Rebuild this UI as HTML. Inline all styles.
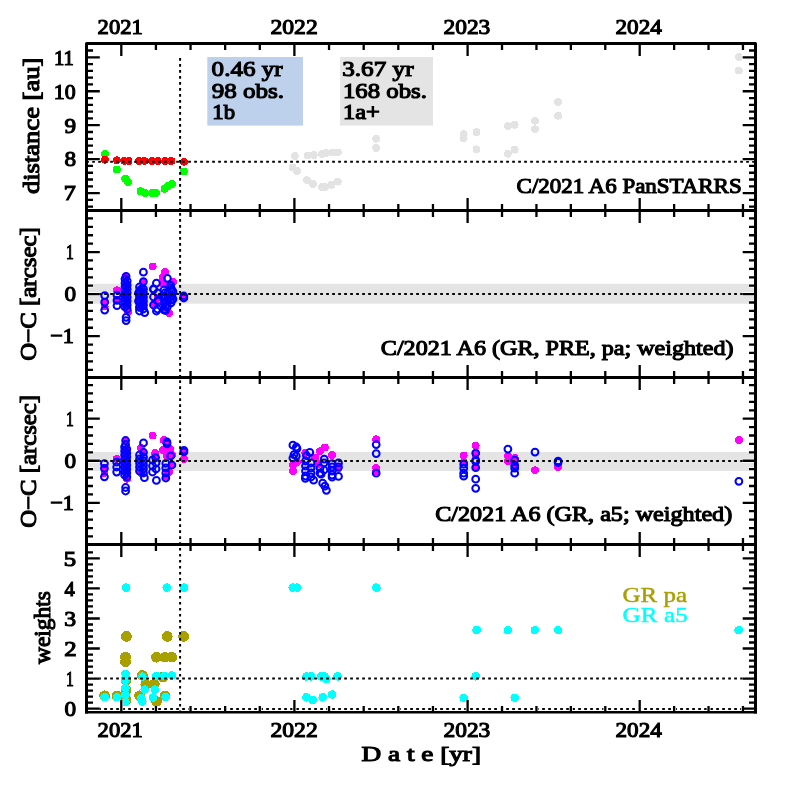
<!DOCTYPE html><html><head><meta charset="utf-8"><style>html,body{margin:0;padding:0;background:#fff;width:797px;height:797px;overflow:hidden}svg{display:block;will-change:transform}text{font-family:"Liberation Serif",serif;font-weight:normal;fill:#000;stroke:#000;stroke-width:1.15px}</style></head><body>
<svg width="797" height="797" viewBox="0 0 797 797">
<rect x="207.3" y="57" width="95.7" height="68.6" fill="#bdd1ed"/>
<rect x="340.1" y="57" width="92.9" height="68.6" fill="#e4e4e4"/>
<rect x="88" y="283.8" width="666" height="19.9" fill="#e4e4e4"/>
<rect x="88" y="452.0" width="666" height="18.9" fill="#e4e4e4"/>
<g shape-rendering="crispEdges"><circle cx="294.8" cy="156.1" r="3.9" fill="#e3e3e3"/><circle cx="307.6" cy="155.4" r="3.9" fill="#e3e3e3"/><circle cx="313.7" cy="155" r="3.9" fill="#e3e3e3"/><circle cx="322" cy="153.9" r="3.9" fill="#e3e3e3"/><circle cx="325.7" cy="153" r="3.9" fill="#e3e3e3"/><circle cx="332.5" cy="152.5" r="3.9" fill="#e3e3e3"/><circle cx="337.8" cy="152.4" r="3.9" fill="#e3e3e3"/><circle cx="292.6" cy="167.4" r="3.9" fill="#e3e3e3"/><circle cx="297.1" cy="171.2" r="3.9" fill="#e3e3e3"/><circle cx="306.9" cy="180.2" r="3.9" fill="#e3e3e3"/><circle cx="312.9" cy="184" r="3.9" fill="#e3e3e3"/><circle cx="322" cy="187" r="3.9" fill="#e3e3e3"/><circle cx="325" cy="187" r="3.9" fill="#e3e3e3"/><circle cx="331.7" cy="184.8" r="3.9" fill="#e3e3e3"/><circle cx="337.8" cy="181.7" r="3.9" fill="#e3e3e3"/><circle cx="376.2" cy="138.8" r="3.9" fill="#e3e3e3"/><circle cx="376.2" cy="147.9" r="3.9" fill="#e3e3e3"/><circle cx="463.7" cy="134.2" r="3.9" fill="#e3e3e3"/><circle cx="463.7" cy="138.2" r="3.9" fill="#e3e3e3"/><circle cx="476.5" cy="132.2" r="3.9" fill="#e3e3e3"/><circle cx="476.5" cy="149.3" r="3.9" fill="#e3e3e3"/><circle cx="507.9" cy="126.2" r="3.9" fill="#e3e3e3"/><circle cx="514.7" cy="124.8" r="3.9" fill="#e3e3e3"/><circle cx="507.9" cy="153.7" r="3.9" fill="#e3e3e3"/><circle cx="514.7" cy="149.7" r="3.9" fill="#e3e3e3"/><circle cx="535" cy="120.7" r="3.9" fill="#e3e3e3"/><circle cx="535" cy="129.2" r="3.9" fill="#e3e3e3"/><circle cx="558.1" cy="102.1" r="3.9" fill="#e3e3e3"/><circle cx="558.1" cy="115.7" r="3.9" fill="#e3e3e3"/><circle cx="738.8" cy="57" r="3.9" fill="#e3e3e3"/><circle cx="738.8" cy="70.6" r="3.9" fill="#e3e3e3"/></g><g shape-rendering="crispEdges"><circle cx="104.9" cy="153.8" r="3.9" fill="#00ff00"/><circle cx="116.9" cy="169.4" r="3.9" fill="#00ff00"/><circle cx="125.2" cy="178.6" r="3.9" fill="#00ff00"/><circle cx="128" cy="182.1" r="3.9" fill="#00ff00"/><circle cx="140.4" cy="191.1" r="3.9" fill="#00ff00"/><circle cx="145.2" cy="193.1" r="3.9" fill="#00ff00"/><circle cx="152.1" cy="193.1" r="3.9" fill="#00ff00"/><circle cx="156.3" cy="193" r="3.9" fill="#00ff00"/><circle cx="164.5" cy="189" r="3.9" fill="#00ff00"/><circle cx="168" cy="186" r="3.9" fill="#00ff00"/><circle cx="172.1" cy="183.9" r="3.9" fill="#00ff00"/><circle cx="183.9" cy="171.5" r="3.9" fill="#00ff00"/></g><g shape-rendering="crispEdges"><circle cx="104.9" cy="159.7" r="3.9" fill="#ff0000"/><circle cx="116.9" cy="160.3" r="3.9" fill="#ff0000"/><circle cx="124.5" cy="161" r="3.9" fill="#ff0000"/><circle cx="128.6" cy="161" r="3.9" fill="#ff0000"/><circle cx="139" cy="161" r="3.9" fill="#ff0000"/><circle cx="144.5" cy="161" r="3.9" fill="#ff0000"/><circle cx="152.1" cy="161" r="3.9" fill="#ff0000"/><circle cx="157.6" cy="161" r="3.9" fill="#ff0000"/><circle cx="165.2" cy="161" r="3.9" fill="#ff0000"/><circle cx="171.4" cy="161" r="3.9" fill="#ff0000"/><circle cx="183.9" cy="161.8" r="3.9" fill="#ff0000"/></g><g shape-rendering="crispEdges"><circle cx="104.7" cy="302.2" r="3.9" fill="#ff00ff"/><circle cx="104.7" cy="306.5" r="3.9" fill="#ff00ff"/><circle cx="117" cy="290.2" r="3.9" fill="#ff00ff"/><circle cx="117" cy="300" r="3.9" fill="#ff00ff"/><circle cx="126.1" cy="276.3" r="3.9" fill="#ff00ff"/><circle cx="126.1" cy="285" r="3.9" fill="#ff00ff"/><circle cx="126.1" cy="290" r="3.9" fill="#ff00ff"/><circle cx="126.1" cy="295" r="3.9" fill="#ff00ff"/><circle cx="126.1" cy="300" r="3.9" fill="#ff00ff"/><circle cx="126.1" cy="305" r="3.9" fill="#ff00ff"/><circle cx="128" cy="311.8" r="3.9" fill="#ff00ff"/><circle cx="143.4" cy="281.6" r="3.9" fill="#ff00ff"/><circle cx="139" cy="307.7" r="3.9" fill="#ff00ff"/><circle cx="139" cy="297" r="3.9" fill="#ff00ff"/><circle cx="143" cy="292" r="3.9" fill="#ff00ff"/><circle cx="143" cy="302" r="3.9" fill="#ff00ff"/><circle cx="152.7" cy="266.5" r="3.9" fill="#ff00ff"/><circle cx="157.5" cy="297.9" r="3.9" fill="#ff00ff"/><circle cx="155" cy="304.4" r="3.9" fill="#ff00ff"/><circle cx="165" cy="271.8" r="3.9" fill="#ff00ff"/><circle cx="162.5" cy="277.5" r="3.9" fill="#ff00ff"/><circle cx="163.3" cy="284.4" r="3.9" fill="#ff00ff"/><circle cx="170.7" cy="285.3" r="3.9" fill="#ff00ff"/><circle cx="173.1" cy="282" r="3.9" fill="#ff00ff"/><circle cx="169" cy="313" r="3.9" fill="#ff00ff"/><circle cx="165.4" cy="310.5" r="3.9" fill="#ff00ff"/><circle cx="166" cy="300" r="3.9" fill="#ff00ff"/><circle cx="171" cy="296" r="3.9" fill="#ff00ff"/><circle cx="183.8" cy="297.1" r="3.9" fill="#ff00ff"/></g><circle cx="104.7" cy="295.6" r="3.4" fill="none" stroke="#0000ff" stroke-width="2.0"/><circle cx="104.7" cy="302.2" r="3.4" fill="none" stroke="#0000ff" stroke-width="2.0"/><circle cx="104.7" cy="310.1" r="3.4" fill="none" stroke="#0000ff" stroke-width="2.0"/><circle cx="117" cy="295.1" r="3.4" fill="none" stroke="#0000ff" stroke-width="2.0"/><circle cx="117" cy="300.4" r="3.4" fill="none" stroke="#0000ff" stroke-width="2.0"/><circle cx="117" cy="305.7" r="3.4" fill="none" stroke="#0000ff" stroke-width="2.0"/><circle cx="126.1" cy="276.3" r="3.4" fill="none" stroke="#0000ff" stroke-width="2.0"/><circle cx="126.1" cy="317.3" r="3.4" fill="none" stroke="#0000ff" stroke-width="2.0"/><circle cx="126.1" cy="320.6" r="3.4" fill="none" stroke="#0000ff" stroke-width="2.0"/><circle cx="143.4" cy="272.2" r="3.4" fill="none" stroke="#0000ff" stroke-width="2.0"/><circle cx="143.4" cy="281.6" r="3.4" fill="none" stroke="#0000ff" stroke-width="2.0"/><circle cx="144.7" cy="312.6" r="3.4" fill="none" stroke="#0000ff" stroke-width="2.0"/><circle cx="156.4" cy="283.2" r="3.4" fill="none" stroke="#0000ff" stroke-width="2.0"/><circle cx="156.4" cy="311" r="3.4" fill="none" stroke="#0000ff" stroke-width="2.0"/><circle cx="153.6" cy="289.3" r="3.4" fill="none" stroke="#0000ff" stroke-width="2.0"/><circle cx="167.4" cy="278.3" r="3.4" fill="none" stroke="#0000ff" stroke-width="2.0"/><circle cx="170.7" cy="285.3" r="3.4" fill="none" stroke="#0000ff" stroke-width="2.0"/><circle cx="165.4" cy="292.6" r="3.4" fill="none" stroke="#0000ff" stroke-width="2.0"/><circle cx="165.4" cy="297" r="3.4" fill="none" stroke="#0000ff" stroke-width="2.0"/><circle cx="165.4" cy="302" r="3.4" fill="none" stroke="#0000ff" stroke-width="2.0"/><circle cx="165.4" cy="306.5" r="3.4" fill="none" stroke="#0000ff" stroke-width="2.0"/><circle cx="165.4" cy="310.5" r="3.4" fill="none" stroke="#0000ff" stroke-width="2.0"/><circle cx="171.9" cy="290" r="3.4" fill="none" stroke="#0000ff" stroke-width="2.0"/><circle cx="171.9" cy="295.9" r="3.4" fill="none" stroke="#0000ff" stroke-width="2.0"/><circle cx="171.9" cy="300" r="3.4" fill="none" stroke="#0000ff" stroke-width="2.0"/><circle cx="183.8" cy="296" r="3.4" fill="none" stroke="#0000ff" stroke-width="2.0"/><circle cx="183.8" cy="298" r="3.4" fill="none" stroke="#0000ff" stroke-width="2.0"/><circle cx="125.0" cy="279.0" r="3.4" fill="none" stroke="#0000ff" stroke-width="2.0"/><circle cx="127.2" cy="281.0" r="3.4" fill="none" stroke="#0000ff" stroke-width="2.0"/><circle cx="125.0" cy="283.0" r="3.4" fill="none" stroke="#0000ff" stroke-width="2.0"/><circle cx="127.2" cy="285.0" r="3.4" fill="none" stroke="#0000ff" stroke-width="2.0"/><circle cx="125.0" cy="287.0" r="3.4" fill="none" stroke="#0000ff" stroke-width="2.0"/><circle cx="127.2" cy="289.0" r="3.4" fill="none" stroke="#0000ff" stroke-width="2.0"/><circle cx="125.0" cy="291.0" r="3.4" fill="none" stroke="#0000ff" stroke-width="2.0"/><circle cx="127.2" cy="293.0" r="3.4" fill="none" stroke="#0000ff" stroke-width="2.0"/><circle cx="125.0" cy="295.0" r="3.4" fill="none" stroke="#0000ff" stroke-width="2.0"/><circle cx="127.2" cy="297.0" r="3.4" fill="none" stroke="#0000ff" stroke-width="2.0"/><circle cx="125.0" cy="299.0" r="3.4" fill="none" stroke="#0000ff" stroke-width="2.0"/><circle cx="127.2" cy="301.0" r="3.4" fill="none" stroke="#0000ff" stroke-width="2.0"/><circle cx="125.0" cy="303.0" r="3.4" fill="none" stroke="#0000ff" stroke-width="2.0"/><circle cx="127.2" cy="305.0" r="3.4" fill="none" stroke="#0000ff" stroke-width="2.0"/><circle cx="125.0" cy="307.0" r="3.4" fill="none" stroke="#0000ff" stroke-width="2.0"/><circle cx="127.2" cy="309.0" r="3.4" fill="none" stroke="#0000ff" stroke-width="2.0"/><circle cx="139.5" cy="287.0" r="3.4" fill="none" stroke="#0000ff" stroke-width="2.0"/><circle cx="143.5" cy="289.0" r="3.4" fill="none" stroke="#0000ff" stroke-width="2.0"/><circle cx="139.5" cy="291.0" r="3.4" fill="none" stroke="#0000ff" stroke-width="2.0"/><circle cx="143.5" cy="293.0" r="3.4" fill="none" stroke="#0000ff" stroke-width="2.0"/><circle cx="139.5" cy="295.0" r="3.4" fill="none" stroke="#0000ff" stroke-width="2.0"/><circle cx="143.5" cy="297.0" r="3.4" fill="none" stroke="#0000ff" stroke-width="2.0"/><circle cx="139.5" cy="299.0" r="3.4" fill="none" stroke="#0000ff" stroke-width="2.0"/><circle cx="143.5" cy="301.0" r="3.4" fill="none" stroke="#0000ff" stroke-width="2.0"/><circle cx="139.5" cy="303.0" r="3.4" fill="none" stroke="#0000ff" stroke-width="2.0"/><circle cx="143.5" cy="305.0" r="3.4" fill="none" stroke="#0000ff" stroke-width="2.0"/><circle cx="139.5" cy="307.0" r="3.4" fill="none" stroke="#0000ff" stroke-width="2.0"/><circle cx="143.5" cy="309.0" r="3.4" fill="none" stroke="#0000ff" stroke-width="2.0"/><circle cx="139.5" cy="311.0" r="3.4" fill="none" stroke="#0000ff" stroke-width="2.0"/><circle cx="141.5" cy="289.0" r="3.4" fill="none" stroke="#0000ff" stroke-width="2.0"/><circle cx="138.5" cy="293.0" r="3.4" fill="none" stroke="#0000ff" stroke-width="2.0"/><circle cx="141.5" cy="297.0" r="3.4" fill="none" stroke="#0000ff" stroke-width="2.0"/><circle cx="138.5" cy="301.0" r="3.4" fill="none" stroke="#0000ff" stroke-width="2.0"/><circle cx="141.5" cy="305.0" r="3.4" fill="none" stroke="#0000ff" stroke-width="2.0"/><circle cx="153.5" cy="289.0" r="3.4" fill="none" stroke="#0000ff" stroke-width="2.0"/><circle cx="157.5" cy="293.0" r="3.4" fill="none" stroke="#0000ff" stroke-width="2.0"/><circle cx="153.5" cy="297.0" r="3.4" fill="none" stroke="#0000ff" stroke-width="2.0"/><circle cx="157.5" cy="301.0" r="3.4" fill="none" stroke="#0000ff" stroke-width="2.0"/><circle cx="153.5" cy="305.0" r="3.4" fill="none" stroke="#0000ff" stroke-width="2.0"/><circle cx="157.5" cy="309.0" r="3.4" fill="none" stroke="#0000ff" stroke-width="2.0"/><circle cx="164.0" cy="290.0" r="3.4" fill="none" stroke="#0000ff" stroke-width="2.0"/><circle cx="167.5" cy="293.3" r="3.4" fill="none" stroke="#0000ff" stroke-width="2.0"/><circle cx="164.0" cy="296.6" r="3.4" fill="none" stroke="#0000ff" stroke-width="2.0"/><circle cx="167.5" cy="299.9" r="3.4" fill="none" stroke="#0000ff" stroke-width="2.0"/><circle cx="164.0" cy="303.2" r="3.4" fill="none" stroke="#0000ff" stroke-width="2.0"/><circle cx="167.5" cy="306.5" r="3.4" fill="none" stroke="#0000ff" stroke-width="2.0"/><circle cx="164.0" cy="309.8" r="3.4" fill="none" stroke="#0000ff" stroke-width="2.0"/><circle cx="171.0" cy="288.0" r="3.4" fill="none" stroke="#0000ff" stroke-width="2.0"/><circle cx="173.0" cy="291.7" r="3.4" fill="none" stroke="#0000ff" stroke-width="2.0"/><circle cx="171.0" cy="295.4" r="3.4" fill="none" stroke="#0000ff" stroke-width="2.0"/><circle cx="173.0" cy="299.1" r="3.4" fill="none" stroke="#0000ff" stroke-width="2.0"/><circle cx="171.0" cy="302.8" r="3.4" fill="none" stroke="#0000ff" stroke-width="2.0"/><g shape-rendering="crispEdges"><circle cx="104.4" cy="467.4" r="3.9" fill="#ff00ff"/><circle cx="104.4" cy="473" r="3.9" fill="#ff00ff"/><circle cx="116.7" cy="458.9" r="3.9" fill="#ff00ff"/><circle cx="125.6" cy="440.5" r="3.9" fill="#ff00ff"/><circle cx="125.6" cy="450" r="3.9" fill="#ff00ff"/><circle cx="125.6" cy="455" r="3.9" fill="#ff00ff"/><circle cx="125.6" cy="460" r="3.9" fill="#ff00ff"/><circle cx="125.6" cy="465" r="3.9" fill="#ff00ff"/><circle cx="125.6" cy="470" r="3.9" fill="#ff00ff"/><circle cx="127" cy="478.7" r="3.9" fill="#ff00ff"/><circle cx="141.1" cy="448.1" r="3.9" fill="#ff00ff"/><circle cx="141.1" cy="473" r="3.9" fill="#ff00ff"/><circle cx="143.5" cy="452.3" r="3.9" fill="#ff00ff"/><circle cx="152.7" cy="435.6" r="3.9" fill="#ff00ff"/><circle cx="163.7" cy="440.1" r="3.9" fill="#ff00ff"/><circle cx="167" cy="442.9" r="3.9" fill="#ff00ff"/><circle cx="163" cy="450" r="3.9" fill="#ff00ff"/><circle cx="170" cy="449" r="3.9" fill="#ff00ff"/><circle cx="167" cy="456" r="3.9" fill="#ff00ff"/><circle cx="172" cy="455" r="3.9" fill="#ff00ff"/><circle cx="170.7" cy="456" r="3.9" fill="#ff00ff"/><circle cx="155.2" cy="453.1" r="3.9" fill="#ff00ff"/><circle cx="155.6" cy="457.6" r="3.9" fill="#ff00ff"/><circle cx="171.9" cy="465" r="3.9" fill="#ff00ff"/><circle cx="165.8" cy="476" r="3.9" fill="#ff00ff"/><circle cx="169" cy="472" r="3.9" fill="#ff00ff"/><circle cx="183.9" cy="451.1" r="3.9" fill="#ff00ff"/><circle cx="183.9" cy="459.2" r="3.9" fill="#ff00ff"/><circle cx="292.9" cy="465.1" r="3.9" fill="#ff00ff"/><circle cx="292.9" cy="471.1" r="3.9" fill="#ff00ff"/><circle cx="297" cy="462" r="3.9" fill="#ff00ff"/><circle cx="305.3" cy="453.1" r="3.9" fill="#ff00ff"/><circle cx="315.1" cy="457.6" r="3.9" fill="#ff00ff"/><circle cx="324.9" cy="447.4" r="3.9" fill="#ff00ff"/><circle cx="320" cy="451.2" r="3.9" fill="#ff00ff"/><circle cx="318" cy="464" r="3.9" fill="#ff00ff"/><circle cx="332.1" cy="455" r="3.9" fill="#ff00ff"/><circle cx="338.5" cy="468.1" r="3.9" fill="#ff00ff"/><circle cx="376.2" cy="439.3" r="3.9" fill="#ff00ff"/><circle cx="376.2" cy="467.9" r="3.9" fill="#ff00ff"/><circle cx="376.2" cy="471.5" r="3.9" fill="#ff00ff"/><circle cx="463.7" cy="455.5" r="3.9" fill="#ff00ff"/><circle cx="463.7" cy="462" r="3.9" fill="#ff00ff"/><circle cx="475.7" cy="445.7" r="3.9" fill="#ff00ff"/><circle cx="475.7" cy="454.1" r="3.9" fill="#ff00ff"/><circle cx="475.7" cy="467.6" r="3.9" fill="#ff00ff"/><circle cx="507.9" cy="456.1" r="3.9" fill="#ff00ff"/><circle cx="507.9" cy="461.1" r="3.9" fill="#ff00ff"/><circle cx="514.7" cy="458" r="3.9" fill="#ff00ff"/><circle cx="514.7" cy="465" r="3.9" fill="#ff00ff"/><circle cx="535" cy="470.2" r="3.9" fill="#ff00ff"/><circle cx="558.1" cy="467.2" r="3.9" fill="#ff00ff"/><circle cx="738.9" cy="439.9" r="3.9" fill="#ff00ff"/></g><circle cx="104.4" cy="463.6" r="3.4" fill="none" stroke="#0000ff" stroke-width="2.0"/><circle cx="104.4" cy="468.3" r="3.4" fill="none" stroke="#0000ff" stroke-width="2.0"/><circle cx="104.4" cy="476.8" r="3.4" fill="none" stroke="#0000ff" stroke-width="2.0"/><circle cx="116.7" cy="462.2" r="3.4" fill="none" stroke="#0000ff" stroke-width="2.0"/><circle cx="116.7" cy="467" r="3.4" fill="none" stroke="#0000ff" stroke-width="2.0"/><circle cx="116.7" cy="472.1" r="3.4" fill="none" stroke="#0000ff" stroke-width="2.0"/><circle cx="125.6" cy="440.5" r="3.4" fill="none" stroke="#0000ff" stroke-width="2.0"/><circle cx="125.6" cy="444.5" r="3.4" fill="none" stroke="#0000ff" stroke-width="2.0"/><circle cx="125.6" cy="487.5" r="3.4" fill="none" stroke="#0000ff" stroke-width="2.0"/><circle cx="125.6" cy="491" r="3.4" fill="none" stroke="#0000ff" stroke-width="2.0"/><circle cx="143.5" cy="442.9" r="3.4" fill="none" stroke="#0000ff" stroke-width="2.0"/><circle cx="143.5" cy="452.3" r="3.4" fill="none" stroke="#0000ff" stroke-width="2.0"/><circle cx="144.4" cy="477.7" r="3.4" fill="none" stroke="#0000ff" stroke-width="2.0"/><circle cx="167" cy="442" r="3.4" fill="none" stroke="#0000ff" stroke-width="2.0"/><circle cx="167" cy="443.8" r="3.4" fill="none" stroke="#0000ff" stroke-width="2.0"/><circle cx="170.7" cy="456" r="3.4" fill="none" stroke="#0000ff" stroke-width="2.0"/><circle cx="155.6" cy="457.6" r="3.4" fill="none" stroke="#0000ff" stroke-width="2.0"/><circle cx="156.4" cy="480.4" r="3.4" fill="none" stroke="#0000ff" stroke-width="2.0"/><circle cx="165.8" cy="463.3" r="3.4" fill="none" stroke="#0000ff" stroke-width="2.0"/><circle cx="165.8" cy="468" r="3.4" fill="none" stroke="#0000ff" stroke-width="2.0"/><circle cx="165.8" cy="473" r="3.4" fill="none" stroke="#0000ff" stroke-width="2.0"/><circle cx="165.8" cy="478" r="3.4" fill="none" stroke="#0000ff" stroke-width="2.0"/><circle cx="171.9" cy="465" r="3.4" fill="none" stroke="#0000ff" stroke-width="2.0"/><circle cx="183.9" cy="450.3" r="3.4" fill="none" stroke="#0000ff" stroke-width="2.0"/><circle cx="183.9" cy="451.9" r="3.4" fill="none" stroke="#0000ff" stroke-width="2.0"/><circle cx="292.9" cy="445.2" r="3.4" fill="none" stroke="#0000ff" stroke-width="2.0"/><circle cx="292.9" cy="458" r="3.4" fill="none" stroke="#0000ff" stroke-width="2.0"/><circle cx="296.3" cy="447" r="3.4" fill="none" stroke="#0000ff" stroke-width="2.0"/><circle cx="296.3" cy="456" r="3.4" fill="none" stroke="#0000ff" stroke-width="2.0"/><circle cx="297" cy="448.6" r="3.4" fill="none" stroke="#0000ff" stroke-width="2.0"/><circle cx="294" cy="454.6" r="3.4" fill="none" stroke="#0000ff" stroke-width="2.0"/><circle cx="309.8" cy="452.3" r="3.4" fill="none" stroke="#0000ff" stroke-width="2.0"/><circle cx="306.5" cy="455.7" r="3.4" fill="none" stroke="#0000ff" stroke-width="2.0"/><circle cx="305.5" cy="461" r="3.4" fill="none" stroke="#0000ff" stroke-width="2.0"/><circle cx="305.5" cy="466" r="3.4" fill="none" stroke="#0000ff" stroke-width="2.0"/><circle cx="305.5" cy="471" r="3.4" fill="none" stroke="#0000ff" stroke-width="2.0"/><circle cx="305.5" cy="476" r="3.4" fill="none" stroke="#0000ff" stroke-width="2.0"/><circle cx="311" cy="463" r="3.4" fill="none" stroke="#0000ff" stroke-width="2.0"/><circle cx="311" cy="468" r="3.4" fill="none" stroke="#0000ff" stroke-width="2.0"/><circle cx="311" cy="473" r="3.4" fill="none" stroke="#0000ff" stroke-width="2.0"/><circle cx="311" cy="477" r="3.4" fill="none" stroke="#0000ff" stroke-width="2.0"/><circle cx="305.3" cy="478.3" r="3.4" fill="none" stroke="#0000ff" stroke-width="2.0"/><circle cx="313.6" cy="480.2" r="3.4" fill="none" stroke="#0000ff" stroke-width="2.0"/><circle cx="324.2" cy="459.1" r="3.4" fill="none" stroke="#0000ff" stroke-width="2.0"/><circle cx="320" cy="468" r="3.4" fill="none" stroke="#0000ff" stroke-width="2.0"/><circle cx="320" cy="473" r="3.4" fill="none" stroke="#0000ff" stroke-width="2.0"/><circle cx="324" cy="463" r="3.4" fill="none" stroke="#0000ff" stroke-width="2.0"/><circle cx="324" cy="470" r="3.4" fill="none" stroke="#0000ff" stroke-width="2.0"/><circle cx="321.1" cy="474.2" r="3.4" fill="none" stroke="#0000ff" stroke-width="2.0"/><circle cx="322.7" cy="483.2" r="3.4" fill="none" stroke="#0000ff" stroke-width="2.0"/><circle cx="324.9" cy="486.2" r="3.4" fill="none" stroke="#0000ff" stroke-width="2.0"/><circle cx="326.4" cy="490.3" r="3.4" fill="none" stroke="#0000ff" stroke-width="2.0"/><circle cx="332.1" cy="463.6" r="3.4" fill="none" stroke="#0000ff" stroke-width="2.0"/><circle cx="332.1" cy="467" r="3.4" fill="none" stroke="#0000ff" stroke-width="2.0"/><circle cx="332.1" cy="471" r="3.4" fill="none" stroke="#0000ff" stroke-width="2.0"/><circle cx="332.1" cy="475" r="3.4" fill="none" stroke="#0000ff" stroke-width="2.0"/><circle cx="332.1" cy="477.2" r="3.4" fill="none" stroke="#0000ff" stroke-width="2.0"/><circle cx="338.5" cy="462.9" r="3.4" fill="none" stroke="#0000ff" stroke-width="2.0"/><circle cx="338.5" cy="467" r="3.4" fill="none" stroke="#0000ff" stroke-width="2.0"/><circle cx="338.5" cy="476.4" r="3.4" fill="none" stroke="#0000ff" stroke-width="2.0"/><circle cx="376.2" cy="444.6" r="3.4" fill="none" stroke="#0000ff" stroke-width="2.0"/><circle cx="376.2" cy="453.6" r="3.4" fill="none" stroke="#0000ff" stroke-width="2.0"/><circle cx="376.2" cy="473.2" r="3.4" fill="none" stroke="#0000ff" stroke-width="2.0"/><circle cx="463.7" cy="464.2" r="3.4" fill="none" stroke="#0000ff" stroke-width="2.0"/><circle cx="463.7" cy="468.2" r="3.4" fill="none" stroke="#0000ff" stroke-width="2.0"/><circle cx="463.7" cy="473.2" r="3.4" fill="none" stroke="#0000ff" stroke-width="2.0"/><circle cx="463.7" cy="476.2" r="3.4" fill="none" stroke="#0000ff" stroke-width="2.0"/><circle cx="475.7" cy="453.1" r="3.4" fill="none" stroke="#0000ff" stroke-width="2.0"/><circle cx="475.7" cy="460.1" r="3.4" fill="none" stroke="#0000ff" stroke-width="2.0"/><circle cx="475.7" cy="461.5" r="3.4" fill="none" stroke="#0000ff" stroke-width="2.0"/><circle cx="475.7" cy="467.6" r="3.4" fill="none" stroke="#0000ff" stroke-width="2.0"/><circle cx="475.7" cy="479.2" r="3.4" fill="none" stroke="#0000ff" stroke-width="2.0"/><circle cx="475.7" cy="488.3" r="3.4" fill="none" stroke="#0000ff" stroke-width="2.0"/><circle cx="507.9" cy="449.1" r="3.4" fill="none" stroke="#0000ff" stroke-width="2.0"/><circle cx="514.7" cy="460.1" r="3.4" fill="none" stroke="#0000ff" stroke-width="2.0"/><circle cx="514.7" cy="465.2" r="3.4" fill="none" stroke="#0000ff" stroke-width="2.0"/><circle cx="514.7" cy="468.2" r="3.4" fill="none" stroke="#0000ff" stroke-width="2.0"/><circle cx="514.7" cy="473.2" r="3.4" fill="none" stroke="#0000ff" stroke-width="2.0"/><circle cx="535" cy="452.1" r="3.4" fill="none" stroke="#0000ff" stroke-width="2.0"/><circle cx="558.1" cy="461.1" r="3.4" fill="none" stroke="#0000ff" stroke-width="2.0"/><circle cx="558.1" cy="462.5" r="3.4" fill="none" stroke="#0000ff" stroke-width="2.0"/><circle cx="738.9" cy="481.3" r="3.4" fill="none" stroke="#0000ff" stroke-width="2.0"/><circle cx="124.6" cy="447.0" r="3.4" fill="none" stroke="#0000ff" stroke-width="2.0"/><circle cx="126.8" cy="449.0" r="3.4" fill="none" stroke="#0000ff" stroke-width="2.0"/><circle cx="124.6" cy="451.0" r="3.4" fill="none" stroke="#0000ff" stroke-width="2.0"/><circle cx="126.8" cy="453.0" r="3.4" fill="none" stroke="#0000ff" stroke-width="2.0"/><circle cx="124.6" cy="455.0" r="3.4" fill="none" stroke="#0000ff" stroke-width="2.0"/><circle cx="126.8" cy="457.0" r="3.4" fill="none" stroke="#0000ff" stroke-width="2.0"/><circle cx="124.6" cy="459.0" r="3.4" fill="none" stroke="#0000ff" stroke-width="2.0"/><circle cx="126.8" cy="461.0" r="3.4" fill="none" stroke="#0000ff" stroke-width="2.0"/><circle cx="124.6" cy="463.0" r="3.4" fill="none" stroke="#0000ff" stroke-width="2.0"/><circle cx="126.8" cy="465.0" r="3.4" fill="none" stroke="#0000ff" stroke-width="2.0"/><circle cx="124.6" cy="467.0" r="3.4" fill="none" stroke="#0000ff" stroke-width="2.0"/><circle cx="126.8" cy="469.0" r="3.4" fill="none" stroke="#0000ff" stroke-width="2.0"/><circle cx="124.6" cy="471.0" r="3.4" fill="none" stroke="#0000ff" stroke-width="2.0"/><circle cx="126.8" cy="473.0" r="3.4" fill="none" stroke="#0000ff" stroke-width="2.0"/><circle cx="124.6" cy="475.0" r="3.4" fill="none" stroke="#0000ff" stroke-width="2.0"/><circle cx="126.8" cy="477.0" r="3.4" fill="none" stroke="#0000ff" stroke-width="2.0"/><circle cx="139.5" cy="455.0" r="3.4" fill="none" stroke="#0000ff" stroke-width="2.0"/><circle cx="143.5" cy="457.0" r="3.4" fill="none" stroke="#0000ff" stroke-width="2.0"/><circle cx="139.5" cy="459.0" r="3.4" fill="none" stroke="#0000ff" stroke-width="2.0"/><circle cx="143.5" cy="461.0" r="3.4" fill="none" stroke="#0000ff" stroke-width="2.0"/><circle cx="139.5" cy="463.0" r="3.4" fill="none" stroke="#0000ff" stroke-width="2.0"/><circle cx="143.5" cy="465.0" r="3.4" fill="none" stroke="#0000ff" stroke-width="2.0"/><circle cx="139.5" cy="467.0" r="3.4" fill="none" stroke="#0000ff" stroke-width="2.0"/><circle cx="143.5" cy="469.0" r="3.4" fill="none" stroke="#0000ff" stroke-width="2.0"/><circle cx="139.5" cy="471.0" r="3.4" fill="none" stroke="#0000ff" stroke-width="2.0"/><circle cx="143.5" cy="473.0" r="3.4" fill="none" stroke="#0000ff" stroke-width="2.0"/><circle cx="152.5" cy="460" r="3.4" fill="none" stroke="#0000ff" stroke-width="2.0"/><circle cx="156.0" cy="463" r="3.4" fill="none" stroke="#0000ff" stroke-width="2.0"/><circle cx="152.5" cy="466" r="3.4" fill="none" stroke="#0000ff" stroke-width="2.0"/><circle cx="156.0" cy="469" r="3.4" fill="none" stroke="#0000ff" stroke-width="2.0"/><circle cx="152.5" cy="472" r="3.4" fill="none" stroke="#0000ff" stroke-width="2.0"/><g shape-rendering="crispEdges"><circle cx="126.4" cy="636.4" r="5.35" fill="#a8a000"/><circle cx="167.3" cy="636.4" r="5.35" fill="#a8a000"/><circle cx="183.6" cy="636.4" r="5.35" fill="#a8a000"/><circle cx="125.5" cy="656.9" r="5.35" fill="#a8a000"/><circle cx="125.5" cy="661.9" r="5.35" fill="#a8a000"/><circle cx="156.5" cy="657.2" r="5.35" fill="#a8a000"/><circle cx="165" cy="657.2" r="5.35" fill="#a8a000"/><circle cx="171.8" cy="657.2" r="5.35" fill="#a8a000"/><circle cx="104.6" cy="695.8" r="5.35" fill="#a8a000"/><circle cx="117" cy="695.8" r="5.35" fill="#a8a000"/><circle cx="126.1" cy="680" r="5.35" fill="#a8a000"/><circle cx="126.1" cy="690" r="5.35" fill="#a8a000"/><circle cx="126.1" cy="700" r="5.35" fill="#a8a000"/><circle cx="142.4" cy="675.5" r="5.35" fill="#a8a000"/><circle cx="139.6" cy="695.8" r="5.35" fill="#a8a000"/><circle cx="145.8" cy="684.5" r="5.35" fill="#a8a000"/><circle cx="154.3" cy="684" r="5.35" fill="#a8a000"/><circle cx="162.8" cy="677.2" r="5.35" fill="#a8a000"/><circle cx="156.5" cy="701.5" r="5.35" fill="#a8a000"/><circle cx="165" cy="695.8" r="5.35" fill="#a8a000"/></g><g shape-rendering="crispEdges"><circle cx="126" cy="587.6" r="4.3" fill="#00ffff"/><circle cx="166.7" cy="587.6" r="4.3" fill="#00ffff"/><circle cx="184" cy="587.6" r="4.3" fill="#00ffff"/><circle cx="104.6" cy="697.2" r="4.3" fill="#00ffff"/><circle cx="117" cy="697.2" r="4.3" fill="#00ffff"/><circle cx="125.5" cy="673.8" r="4.3" fill="#00ffff"/><circle cx="125.5" cy="680" r="4.3" fill="#00ffff"/><circle cx="125.5" cy="688" r="4.3" fill="#00ffff"/><circle cx="125.5" cy="695" r="4.3" fill="#00ffff"/><circle cx="125.5" cy="702" r="4.3" fill="#00ffff"/><circle cx="142.4" cy="676.6" r="4.3" fill="#00ffff"/><circle cx="144.7" cy="689.6" r="4.3" fill="#00ffff"/><circle cx="141.3" cy="698.1" r="4.3" fill="#00ffff"/><circle cx="142.4" cy="701.5" r="4.3" fill="#00ffff"/><circle cx="154.8" cy="689.6" r="4.3" fill="#00ffff"/><circle cx="153.2" cy="697.5" r="4.3" fill="#00ffff"/><circle cx="156.5" cy="676" r="4.3" fill="#00ffff"/><circle cx="164.4" cy="676" r="4.3" fill="#00ffff"/><circle cx="171.8" cy="675.5" r="4.3" fill="#00ffff"/><circle cx="165.6" cy="697" r="4.3" fill="#00ffff"/><circle cx="292.7" cy="587.6" r="4.3" fill="#00ffff"/><circle cx="297.3" cy="587.6" r="4.3" fill="#00ffff"/><circle cx="376.4" cy="587.6" r="4.3" fill="#00ffff"/><circle cx="306.4" cy="676.4" r="4.3" fill="#00ffff"/><circle cx="310.9" cy="676.4" r="4.3" fill="#00ffff"/><circle cx="320.9" cy="676.4" r="4.3" fill="#00ffff"/><circle cx="324.5" cy="676.4" r="4.3" fill="#00ffff"/><circle cx="326.4" cy="679.1" r="4.3" fill="#00ffff"/><circle cx="337.6" cy="676.4" r="4.3" fill="#00ffff"/><circle cx="306.4" cy="697.3" r="4.3" fill="#00ffff"/><circle cx="312.7" cy="700" r="4.3" fill="#00ffff"/><circle cx="322.7" cy="697.3" r="4.3" fill="#00ffff"/><circle cx="332.2" cy="694.5" r="4.3" fill="#00ffff"/><circle cx="476.7" cy="630.1" r="4.3" fill="#00ffff"/><circle cx="507.9" cy="630.1" r="4.3" fill="#00ffff"/><circle cx="534.8" cy="630.1" r="4.3" fill="#00ffff"/><circle cx="558.1" cy="630.1" r="4.3" fill="#00ffff"/><circle cx="475.7" cy="676.3" r="4.3" fill="#00ffff"/><circle cx="463.7" cy="697.8" r="4.3" fill="#00ffff"/><circle cx="514.7" cy="697.8" r="4.3" fill="#00ffff"/><circle cx="738.6" cy="630.2" r="4.3" fill="#00ffff"/></g>
<path d="M86.2,161.85H754M86.2,294.10H754M86.2,461.10H754M86.2,678.56H754M86.2,709.00H754" stroke="#000" stroke-width="2" stroke-dasharray="2.7 3.3" fill="none"/>
<path d="M180.1,58.1V209M180.1,213.1V376M180.1,380.2V543M180.1,547.9V710.5" stroke="#000" stroke-width="2" stroke-dasharray="2.7 3.3" fill="none"/>
<path d="M121.30,44.9v11M155.92,44.9v5M190.54,44.9v5M225.16,44.9v5M259.78,44.9v5M294.40,44.9v11M329.04,44.9v5M363.68,44.9v5M398.32,44.9v5M432.96,44.9v5M467.60,44.9v11M502.02,44.9v5M536.44,44.9v5M570.86,44.9v5M605.28,44.9v5M639.70,44.9v11M674.12,44.9v5M708.54,44.9v5M742.96,44.9v5M121.30,211.9v11M121.30,208.9v-11M155.92,211.9v5M155.92,208.9v-5M190.54,211.9v5M190.54,208.9v-5M225.16,211.9v5M225.16,208.9v-5M259.78,211.9v5M259.78,208.9v-5M294.40,211.9v11M294.40,208.9v-11M329.04,211.9v5M329.04,208.9v-5M363.68,211.9v5M363.68,208.9v-5M398.32,211.9v5M398.32,208.9v-5M432.96,211.9v5M432.96,208.9v-5M467.60,211.9v11M467.60,208.9v-11M502.02,211.9v5M502.02,208.9v-5M536.44,211.9v5M536.44,208.9v-5M570.86,211.9v5M570.86,208.9v-5M605.28,211.9v5M605.28,208.9v-5M639.70,211.9v11M639.70,208.9v-11M674.12,211.9v5M674.12,208.9v-5M708.54,211.9v5M708.54,208.9v-5M742.96,211.9v5M742.96,208.9v-5M121.30,378.9v11M121.30,375.9v-11M155.92,378.9v5M155.92,375.9v-5M190.54,378.9v5M190.54,375.9v-5M225.16,378.9v5M225.16,375.9v-5M259.78,378.9v5M259.78,375.9v-5M294.40,378.9v11M294.40,375.9v-11M329.04,378.9v5M329.04,375.9v-5M363.68,378.9v5M363.68,375.9v-5M398.32,378.9v5M398.32,375.9v-5M432.96,378.9v5M432.96,375.9v-5M467.60,378.9v11M467.60,375.9v-11M502.02,378.9v5M502.02,375.9v-5M536.44,378.9v5M536.44,375.9v-5M570.86,378.9v5M570.86,375.9v-5M605.28,378.9v5M605.28,375.9v-5M639.70,378.9v11M639.70,375.9v-11M674.12,378.9v5M674.12,375.9v-5M708.54,378.9v5M708.54,375.9v-5M742.96,378.9v5M742.96,375.9v-5M121.30,545.9v11M121.30,542.9v-11M155.92,545.9v5M155.92,542.9v-5M190.54,545.9v5M190.54,542.9v-5M225.16,545.9v5M225.16,542.9v-5M259.78,545.9v5M259.78,542.9v-5M294.40,545.9v11M294.40,542.9v-11M329.04,545.9v5M329.04,542.9v-5M363.68,545.9v5M363.68,542.9v-5M398.32,545.9v5M398.32,542.9v-5M432.96,545.9v5M432.96,542.9v-5M467.60,545.9v11M467.60,542.9v-11M502.02,545.9v5M502.02,542.9v-5M536.44,545.9v5M536.44,542.9v-5M570.86,545.9v5M570.86,542.9v-5M605.28,545.9v5M605.28,542.9v-5M639.70,545.9v11M639.70,542.9v-11M674.12,545.9v5M674.12,542.9v-5M708.54,545.9v5M708.54,542.9v-5M742.96,545.9v5M742.96,542.9v-5M121.30,710.9000000000001v-11M155.92,710.9000000000001v-5M190.54,710.9000000000001v-5M225.16,710.9000000000001v-5M259.78,710.9000000000001v-5M294.40,710.9000000000001v-11M329.04,710.9000000000001v-5M363.68,710.9000000000001v-5M398.32,710.9000000000001v-5M432.96,710.9000000000001v-5M467.60,710.9000000000001v-11M502.02,710.9000000000001v-5M536.44,710.9000000000001v-5M570.86,710.9000000000001v-5M605.28,710.9000000000001v-5M639.70,710.9000000000001v-11M674.12,710.9000000000001v-5M708.54,710.9000000000001v-5M742.96,710.9000000000001v-5M88.0,193.10h11.8M754.0,193.10h-11.3M88.0,159.15h11.8M754.0,159.15h-11.3M88.0,125.20h11.8M754.0,125.20h-11.3M88.0,91.25h11.8M754.0,91.25h-11.3M88.0,57.30h11.8M754.0,57.30h-11.3M88.0,206.68h5M754.0,206.68h-5M88.0,199.89h5M754.0,199.89h-5M88.0,193.10h5M754.0,193.10h-5M88.0,186.31h5M754.0,186.31h-5M88.0,179.52h5M754.0,179.52h-5M88.0,172.73h5M754.0,172.73h-5M88.0,165.94h5M754.0,165.94h-5M88.0,159.15h5M754.0,159.15h-5M88.0,152.36h5M754.0,152.36h-5M88.0,145.57h5M754.0,145.57h-5M88.0,138.78h5M754.0,138.78h-5M88.0,131.99h5M754.0,131.99h-5M88.0,125.20h5M754.0,125.20h-5M88.0,118.41h5M754.0,118.41h-5M88.0,111.62h5M754.0,111.62h-5M88.0,104.83h5M754.0,104.83h-5M88.0,98.04h5M754.0,98.04h-5M88.0,91.25h5M754.0,91.25h-5M88.0,84.46h5M754.0,84.46h-5M88.0,77.67h5M754.0,77.67h-5M88.0,70.88h5M754.0,70.88h-5M88.0,64.09h5M754.0,64.09h-5M88.0,57.30h5M754.0,57.30h-5M88.0,50.51h5M754.0,50.51h-5M88.0,336.15h11.8M754.0,336.15h-11.3M88.0,294.10h11.8M754.0,294.10h-11.3M88.0,252.05h11.8M754.0,252.05h-11.3M88.0,369.79h5M754.0,369.79h-5M88.0,361.38h5M754.0,361.38h-5M88.0,352.97h5M754.0,352.97h-5M88.0,344.56h5M754.0,344.56h-5M88.0,336.15h5M754.0,336.15h-5M88.0,327.74h5M754.0,327.74h-5M88.0,319.33h5M754.0,319.33h-5M88.0,310.92h5M754.0,310.92h-5M88.0,302.51h5M754.0,302.51h-5M88.0,294.10h5M754.0,294.10h-5M88.0,285.69h5M754.0,285.69h-5M88.0,277.28h5M754.0,277.28h-5M88.0,268.87h5M754.0,268.87h-5M88.0,260.46h5M754.0,260.46h-5M88.0,252.05h5M754.0,252.05h-5M88.0,243.64h5M754.0,243.64h-5M88.0,235.23h5M754.0,235.23h-5M88.0,226.82h5M754.0,226.82h-5M88.0,218.41h5M754.0,218.41h-5M88.0,502.80h11.8M754.0,502.80h-11.3M88.0,460.75h11.8M754.0,460.75h-11.3M88.0,418.70h11.8M754.0,418.70h-11.3M88.0,536.44h5M754.0,536.44h-5M88.0,528.03h5M754.0,528.03h-5M88.0,519.62h5M754.0,519.62h-5M88.0,511.21h5M754.0,511.21h-5M88.0,502.80h5M754.0,502.80h-5M88.0,494.39h5M754.0,494.39h-5M88.0,485.98h5M754.0,485.98h-5M88.0,477.57h5M754.0,477.57h-5M88.0,469.16h5M754.0,469.16h-5M88.0,460.75h5M754.0,460.75h-5M88.0,452.34h5M754.0,452.34h-5M88.0,443.93h5M754.0,443.93h-5M88.0,435.52h5M754.0,435.52h-5M88.0,427.11h5M754.0,427.11h-5M88.0,418.70h5M754.0,418.70h-5M88.0,410.29h5M754.0,410.29h-5M88.0,401.88h5M754.0,401.88h-5M88.0,393.47h5M754.0,393.47h-5M88.0,385.06h5M754.0,385.06h-5M88.0,708.60h11.8M754.0,708.60h-11.3M88.0,678.56h11.8M754.0,678.56h-11.3M88.0,648.52h11.8M754.0,648.52h-11.3M88.0,618.48h11.8M754.0,618.48h-11.3M88.0,588.44h11.8M754.0,588.44h-11.3M88.0,558.40h11.8M754.0,558.40h-11.3M88.0,708.60h5M754.0,708.60h-5M88.0,702.59h5M754.0,702.59h-5M88.0,696.58h5M754.0,696.58h-5M88.0,690.58h5M754.0,690.58h-5M88.0,684.57h5M754.0,684.57h-5M88.0,678.56h5M754.0,678.56h-5M88.0,672.55h5M754.0,672.55h-5M88.0,666.54h5M754.0,666.54h-5M88.0,660.54h5M754.0,660.54h-5M88.0,654.53h5M754.0,654.53h-5M88.0,648.52h5M754.0,648.52h-5M88.0,642.51h5M754.0,642.51h-5M88.0,636.50h5M754.0,636.50h-5M88.0,630.50h5M754.0,630.50h-5M88.0,624.49h5M754.0,624.49h-5M88.0,618.48h5M754.0,618.48h-5M88.0,612.47h5M754.0,612.47h-5M88.0,606.46h5M754.0,606.46h-5M88.0,600.46h5M754.0,600.46h-5M88.0,594.45h5M754.0,594.45h-5M88.0,588.44h5M754.0,588.44h-5M88.0,582.43h5M754.0,582.43h-5M88.0,576.42h5M754.0,576.42h-5M88.0,570.42h5M754.0,570.42h-5M88.0,564.41h5M754.0,564.41h-5M88.0,558.40h5M754.0,558.40h-5M88.0,552.39h5M754.0,552.39h-5" stroke="#fff" stroke-width="3.8" fill="none"/>
<path d="M86.5,713.5V43.4H755.5V713.5M86.5,210.4H755.5M86.5,377.4H755.5M86.5,544.4H755.5" stroke="#000" stroke-width="3.0" fill="none" stroke-linejoin="round"/>
<path d="M85.0,712.2H757.0" stroke="#000" stroke-width="2.6" fill="none"/>
<path d="M121.30,44.9v11M155.92,44.9v5M190.54,44.9v5M225.16,44.9v5M259.78,44.9v5M294.40,44.9v11M329.04,44.9v5M363.68,44.9v5M398.32,44.9v5M432.96,44.9v5M467.60,44.9v11M502.02,44.9v5M536.44,44.9v5M570.86,44.9v5M605.28,44.9v5M639.70,44.9v11M674.12,44.9v5M708.54,44.9v5M742.96,44.9v5M121.30,211.9v11M121.30,208.9v-11M155.92,211.9v5M155.92,208.9v-5M190.54,211.9v5M190.54,208.9v-5M225.16,211.9v5M225.16,208.9v-5M259.78,211.9v5M259.78,208.9v-5M294.40,211.9v11M294.40,208.9v-11M329.04,211.9v5M329.04,208.9v-5M363.68,211.9v5M363.68,208.9v-5M398.32,211.9v5M398.32,208.9v-5M432.96,211.9v5M432.96,208.9v-5M467.60,211.9v11M467.60,208.9v-11M502.02,211.9v5M502.02,208.9v-5M536.44,211.9v5M536.44,208.9v-5M570.86,211.9v5M570.86,208.9v-5M605.28,211.9v5M605.28,208.9v-5M639.70,211.9v11M639.70,208.9v-11M674.12,211.9v5M674.12,208.9v-5M708.54,211.9v5M708.54,208.9v-5M742.96,211.9v5M742.96,208.9v-5M121.30,378.9v11M121.30,375.9v-11M155.92,378.9v5M155.92,375.9v-5M190.54,378.9v5M190.54,375.9v-5M225.16,378.9v5M225.16,375.9v-5M259.78,378.9v5M259.78,375.9v-5M294.40,378.9v11M294.40,375.9v-11M329.04,378.9v5M329.04,375.9v-5M363.68,378.9v5M363.68,375.9v-5M398.32,378.9v5M398.32,375.9v-5M432.96,378.9v5M432.96,375.9v-5M467.60,378.9v11M467.60,375.9v-11M502.02,378.9v5M502.02,375.9v-5M536.44,378.9v5M536.44,375.9v-5M570.86,378.9v5M570.86,375.9v-5M605.28,378.9v5M605.28,375.9v-5M639.70,378.9v11M639.70,375.9v-11M674.12,378.9v5M674.12,375.9v-5M708.54,378.9v5M708.54,375.9v-5M742.96,378.9v5M742.96,375.9v-5M121.30,545.9v11M121.30,542.9v-11M155.92,545.9v5M155.92,542.9v-5M190.54,545.9v5M190.54,542.9v-5M225.16,545.9v5M225.16,542.9v-5M259.78,545.9v5M259.78,542.9v-5M294.40,545.9v11M294.40,542.9v-11M329.04,545.9v5M329.04,542.9v-5M363.68,545.9v5M363.68,542.9v-5M398.32,545.9v5M398.32,542.9v-5M432.96,545.9v5M432.96,542.9v-5M467.60,545.9v11M467.60,542.9v-11M502.02,545.9v5M502.02,542.9v-5M536.44,545.9v5M536.44,542.9v-5M570.86,545.9v5M570.86,542.9v-5M605.28,545.9v5M605.28,542.9v-5M639.70,545.9v11M639.70,542.9v-11M674.12,545.9v5M674.12,542.9v-5M708.54,545.9v5M708.54,542.9v-5M742.96,545.9v5M742.96,542.9v-5M121.30,710.9000000000001v-11M155.92,710.9000000000001v-5M190.54,710.9000000000001v-5M225.16,710.9000000000001v-5M259.78,710.9000000000001v-5M294.40,710.9000000000001v-11M329.04,710.9000000000001v-5M363.68,710.9000000000001v-5M398.32,710.9000000000001v-5M432.96,710.9000000000001v-5M467.60,710.9000000000001v-11M502.02,710.9000000000001v-5M536.44,710.9000000000001v-5M570.86,710.9000000000001v-5M605.28,710.9000000000001v-5M639.70,710.9000000000001v-11M674.12,710.9000000000001v-5M708.54,710.9000000000001v-5M742.96,710.9000000000001v-5M88.0,193.10h11.8M754.0,193.10h-11.3M88.0,159.15h11.8M754.0,159.15h-11.3M88.0,125.20h11.8M754.0,125.20h-11.3M88.0,91.25h11.8M754.0,91.25h-11.3M88.0,57.30h11.8M754.0,57.30h-11.3M88.0,206.68h5M754.0,206.68h-5M88.0,199.89h5M754.0,199.89h-5M88.0,193.10h5M754.0,193.10h-5M88.0,186.31h5M754.0,186.31h-5M88.0,179.52h5M754.0,179.52h-5M88.0,172.73h5M754.0,172.73h-5M88.0,165.94h5M754.0,165.94h-5M88.0,159.15h5M754.0,159.15h-5M88.0,152.36h5M754.0,152.36h-5M88.0,145.57h5M754.0,145.57h-5M88.0,138.78h5M754.0,138.78h-5M88.0,131.99h5M754.0,131.99h-5M88.0,125.20h5M754.0,125.20h-5M88.0,118.41h5M754.0,118.41h-5M88.0,111.62h5M754.0,111.62h-5M88.0,104.83h5M754.0,104.83h-5M88.0,98.04h5M754.0,98.04h-5M88.0,91.25h5M754.0,91.25h-5M88.0,84.46h5M754.0,84.46h-5M88.0,77.67h5M754.0,77.67h-5M88.0,70.88h5M754.0,70.88h-5M88.0,64.09h5M754.0,64.09h-5M88.0,57.30h5M754.0,57.30h-5M88.0,50.51h5M754.0,50.51h-5M88.0,336.15h11.8M754.0,336.15h-11.3M88.0,294.10h11.8M754.0,294.10h-11.3M88.0,252.05h11.8M754.0,252.05h-11.3M88.0,369.79h5M754.0,369.79h-5M88.0,361.38h5M754.0,361.38h-5M88.0,352.97h5M754.0,352.97h-5M88.0,344.56h5M754.0,344.56h-5M88.0,336.15h5M754.0,336.15h-5M88.0,327.74h5M754.0,327.74h-5M88.0,319.33h5M754.0,319.33h-5M88.0,310.92h5M754.0,310.92h-5M88.0,302.51h5M754.0,302.51h-5M88.0,294.10h5M754.0,294.10h-5M88.0,285.69h5M754.0,285.69h-5M88.0,277.28h5M754.0,277.28h-5M88.0,268.87h5M754.0,268.87h-5M88.0,260.46h5M754.0,260.46h-5M88.0,252.05h5M754.0,252.05h-5M88.0,243.64h5M754.0,243.64h-5M88.0,235.23h5M754.0,235.23h-5M88.0,226.82h5M754.0,226.82h-5M88.0,218.41h5M754.0,218.41h-5M88.0,502.80h11.8M754.0,502.80h-11.3M88.0,460.75h11.8M754.0,460.75h-11.3M88.0,418.70h11.8M754.0,418.70h-11.3M88.0,536.44h5M754.0,536.44h-5M88.0,528.03h5M754.0,528.03h-5M88.0,519.62h5M754.0,519.62h-5M88.0,511.21h5M754.0,511.21h-5M88.0,502.80h5M754.0,502.80h-5M88.0,494.39h5M754.0,494.39h-5M88.0,485.98h5M754.0,485.98h-5M88.0,477.57h5M754.0,477.57h-5M88.0,469.16h5M754.0,469.16h-5M88.0,460.75h5M754.0,460.75h-5M88.0,452.34h5M754.0,452.34h-5M88.0,443.93h5M754.0,443.93h-5M88.0,435.52h5M754.0,435.52h-5M88.0,427.11h5M754.0,427.11h-5M88.0,418.70h5M754.0,418.70h-5M88.0,410.29h5M754.0,410.29h-5M88.0,401.88h5M754.0,401.88h-5M88.0,393.47h5M754.0,393.47h-5M88.0,385.06h5M754.0,385.06h-5M88.0,708.60h11.8M754.0,708.60h-11.3M88.0,678.56h11.8M754.0,678.56h-11.3M88.0,648.52h11.8M754.0,648.52h-11.3M88.0,618.48h11.8M754.0,618.48h-11.3M88.0,588.44h11.8M754.0,588.44h-11.3M88.0,558.40h11.8M754.0,558.40h-11.3M88.0,708.60h5M754.0,708.60h-5M88.0,702.59h5M754.0,702.59h-5M88.0,696.58h5M754.0,696.58h-5M88.0,690.58h5M754.0,690.58h-5M88.0,684.57h5M754.0,684.57h-5M88.0,678.56h5M754.0,678.56h-5M88.0,672.55h5M754.0,672.55h-5M88.0,666.54h5M754.0,666.54h-5M88.0,660.54h5M754.0,660.54h-5M88.0,654.53h5M754.0,654.53h-5M88.0,648.52h5M754.0,648.52h-5M88.0,642.51h5M754.0,642.51h-5M88.0,636.50h5M754.0,636.50h-5M88.0,630.50h5M754.0,630.50h-5M88.0,624.49h5M754.0,624.49h-5M88.0,618.48h5M754.0,618.48h-5M88.0,612.47h5M754.0,612.47h-5M88.0,606.46h5M754.0,606.46h-5M88.0,600.46h5M754.0,600.46h-5M88.0,594.45h5M754.0,594.45h-5M88.0,588.44h5M754.0,588.44h-5M88.0,582.43h5M754.0,582.43h-5M88.0,576.42h5M754.0,576.42h-5M88.0,570.42h5M754.0,570.42h-5M88.0,564.41h5M754.0,564.41h-5M88.0,558.40h5M754.0,558.40h-5M88.0,552.39h5M754.0,552.39h-5" stroke="#000" stroke-width="2.3" fill="none"/>
<text x="97.62" y="33.80" font-size="22" textLength="45.16" lengthAdjust="spacingAndGlyphs">2021</text><text x="97.62" y="736.60" font-size="22" textLength="45.16" lengthAdjust="spacingAndGlyphs">2021</text><text x="270.48" y="33.80" font-size="22" textLength="47.26" lengthAdjust="spacingAndGlyphs">2022</text><text x="270.48" y="736.60" font-size="22" textLength="47.26" lengthAdjust="spacingAndGlyphs">2022</text><text x="443.49" y="33.80" font-size="22" textLength="46.82" lengthAdjust="spacingAndGlyphs">2023</text><text x="443.49" y="736.60" font-size="22" textLength="46.82" lengthAdjust="spacingAndGlyphs">2023</text><text x="615.50" y="33.80" font-size="22" textLength="46.27" lengthAdjust="spacingAndGlyphs">2024</text><text x="615.50" y="736.60" font-size="22" textLength="46.27" lengthAdjust="spacingAndGlyphs">2024</text><text x="211.64" y="75.90" font-size="22" textLength="70.87" lengthAdjust="spacingAndGlyphs">0.46 yr</text><text x="211.75" y="98.20" font-size="22" textLength="72.35" lengthAdjust="spacingAndGlyphs">98 obs.</text><text x="212.38" y="118.70" font-size="22" textLength="22.80" lengthAdjust="spacingAndGlyphs">1b</text><text x="342.20" y="75.90" font-size="22" textLength="71.41" lengthAdjust="spacingAndGlyphs">3.67 yr</text><text x="343.01" y="98.20" font-size="22" textLength="83.87" lengthAdjust="spacingAndGlyphs">168 obs.</text><text x="343.04" y="118.70" font-size="22" textLength="36.80" lengthAdjust="spacingAndGlyphs">1a+</text><text x="516.61" y="192.60" font-size="22" textLength="225.04" lengthAdjust="spacingAndGlyphs">C/2021 A6 PanSTARRS</text><text x="380.86" y="354.60" font-size="22" textLength="352.71" lengthAdjust="spacingAndGlyphs">C/2021 A6 (GR, PRE, pa; weighted)</text><text x="435.16" y="521.30" font-size="22" textLength="297.07" lengthAdjust="spacingAndGlyphs">C/2021 A6 (GR, a5; weighted)</text><text x="622.63" y="602.10" font-size="22" textLength="64.37" lengthAdjust="spacingAndGlyphs" style="font-weight:normal;fill:#a8a000;stroke:#a8a000;stroke-width:0.45">GR pa</text><text x="622.62" y="622.20" font-size="22" textLength="65.19" lengthAdjust="spacingAndGlyphs" style="font-weight:normal;fill:#00ffff;stroke:#00ffff;stroke-width:0.45">GR a5</text><text x="361.51" y="761.00" font-size="22" textLength="119.53" lengthAdjust="spacingAndGlyphs">D a t e [yr]</text><text x="63.81" y="200.40" font-size="22" textLength="12.10" lengthAdjust="spacingAndGlyphs">7</text><text x="64.51" y="166.45" font-size="22" textLength="11.59" lengthAdjust="spacingAndGlyphs">8</text><text x="64.61" y="132.50" font-size="22" textLength="11.59" lengthAdjust="spacingAndGlyphs">9</text><text x="53.86" y="98.55" font-size="22" textLength="21.89" lengthAdjust="spacingAndGlyphs">10</text><text x="53.97" y="64.60" font-size="22" textLength="19.89" lengthAdjust="spacingAndGlyphs">11</text><text x="65.91" y="259.35" font-size="22" textLength="7.76" lengthAdjust="spacingAndGlyphs">1</text><text x="64.51" y="301.40" font-size="22" textLength="11.59" lengthAdjust="spacingAndGlyphs">0</text><text x="50.34" y="343.45" font-size="22" textLength="23.63" lengthAdjust="spacingAndGlyphs">−1</text><text x="65.91" y="426.00" font-size="22" textLength="7.76" lengthAdjust="spacingAndGlyphs">1</text><text x="64.51" y="468.05" font-size="22" textLength="11.59" lengthAdjust="spacingAndGlyphs">0</text><text x="50.34" y="510.10" font-size="22" textLength="23.63" lengthAdjust="spacingAndGlyphs">−1</text><text x="64.51" y="715.90" font-size="22" textLength="11.59" lengthAdjust="spacingAndGlyphs">0</text><text x="65.91" y="685.86" font-size="22" textLength="7.76" lengthAdjust="spacingAndGlyphs">1</text><text x="64.22" y="655.82" font-size="22" textLength="12.38" lengthAdjust="spacingAndGlyphs">2</text><text x="64.27" y="625.78" font-size="22" textLength="11.84" lengthAdjust="spacingAndGlyphs">3</text><text x="64.58" y="595.74" font-size="22" textLength="10.25" lengthAdjust="spacingAndGlyphs">4</text><text x="63.89" y="565.70" font-size="22" textLength="12.38" lengthAdjust="spacingAndGlyphs">5</text><text transform="translate(39.10,193.70) rotate(-90)" x="-0.35" y="0" font-size="23.5" textLength="136.42" lengthAdjust="spacingAndGlyphs">distance [au]</text><text transform="translate(36.20,360.30) rotate(-90)" x="-0.51" y="0" font-size="23.5" textLength="133.57" lengthAdjust="spacingAndGlyphs">O−C [arcsec]</text><text transform="translate(36.20,527.20) rotate(-90)" x="-0.50" y="0" font-size="23.5" textLength="132.65" lengthAdjust="spacingAndGlyphs">O−C [arcsec]</text><text transform="translate(50.30,664.50) rotate(-90)" x="0.55" y="0" font-size="23.5" textLength="72.80" lengthAdjust="spacingAndGlyphs">weights</text>
</svg></body></html>
